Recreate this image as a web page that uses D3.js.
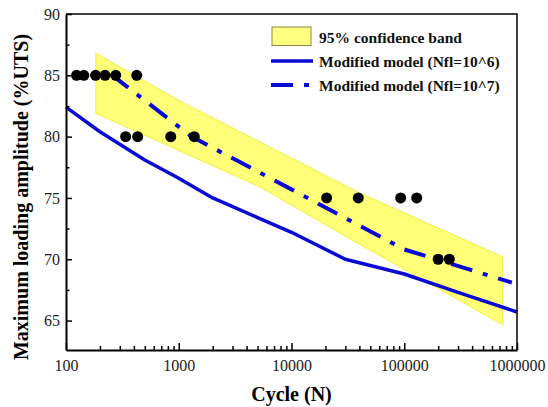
<!DOCTYPE html>
<html>
<head>
<meta charset="utf-8">
<script src="https://cdn.jsdelivr.net/npm/d3@7"></script>
<style>
  html, body { margin: 0; padding: 0; background: #fff; }
  svg { display: block; }
  text { font-family: "Liberation Serif", "Times New Roman", serif; }
</style>
</head>
<body>
<svg id="chart" width="548" height="407"></svg>
<script>
// ---- data ----
const xTickValues = [100, 1000, 10000, 100000, 1000000];
const xTickLabels = ["100", "1000", "10000", "100000", "1000000"];
const yTickValues = [65, 70, 75, 80, 85, 90];
const yMinorTicks = [67.5, 72.5, 77.5, 82.5, 87.5];

const pointCycles = [124, 144, 183, 222, 276, 424, 338, 432, 849, 1374, 20500, 39100, 93000, 129000, 200000, 251000];
const pointAmplitude = [85, 85, 85, 85, 85, 85, 80, 80, 80, 80, 75, 75, 75, 75, 70, 70];

const model6Cycles = [100, 200, 500, 1000, 2000, 5000, 10000, 30000, 100000, 300000, 1000000];
const model6Amplitude = [82.4, 80.4, 78.1, 76.6, 75.0, 73.4, 72.2, 70.0, 68.8, 67.3, 65.7];

const model7Cycles = [250, 1300, 10000, 100000, 900000];
const model7Amplitude = [85.1, 80.0, 75.7, 70.8, 68.1];

const bandUpperCycles = [184, 1026, 40500, 746000];
const bandUpper = [86.8, 82.9, 75.4, 70.2];
const bandLowerCycles = [184, 5250, 29800, 746000];
const bandLower = [81.9, 75.9, 71.9, 64.65];

const legendLabels = ["95% confidence band", "Modified model (Nfl=10^6)", "Modified model (Nfl=10^7)"];

// ---- layout ----
const svg = d3.select("#chart");
const L = 66, R = 517, T = 14, B = 350;
const x = d3.scaleLog().domain([100, 1000000]).range([L, R]);
const y = d3.scaleLinear().domain([62.6, 90]).range([B, T]);
const blue = "#0a0ad2";

// band
const bandPts = bandUpperCycles.map((c, i) => [c, bandUpper[i]])
  .concat(bandLowerCycles.map((c, i) => [c, bandLower[i]]).reverse());
svg.append("path")
  .attr("d", d3.line().x(d => x(d[0])).y(d => y(d[1])).curve(d3.curveLinearClosed)(bandPts))
  .attr("fill", "#ffff78")
  .attr("stroke", "#eeee44")
  .attr("stroke-width", 1);

// model lines
const line = d3.line().x(d => x(d[0])).y(d => y(d[1]));
svg.append("path")
  .attr("d", line(model6Cycles.map((c, i) => [c, model6Amplitude[i]])))
  .attr("fill", "none").attr("stroke", blue).attr("stroke-width", 3.5)
  .attr("stroke-linejoin", "round");
svg.append("path")
  .attr("d", line(model7Cycles.map((c, i) => [c, model7Amplitude[i]])))
  .attr("fill", "none").attr("stroke", blue).attr("stroke-width", 4)
  .attr("stroke-dasharray", "22,11,5,11");

// points
svg.append("g").selectAll("circle")
  .data(pointCycles.map((c, i) => [c, pointAmplitude[i]]))
  .join("circle")
  .attr("cx", d => x(d[0])).attr("cy", d => y(d[1])).attr("r", 5.5)
  .attr("fill", "#000");

// axes
const minorX = [];
for (let e = 2; e < 6; e++) for (let m = 2; m <= 9; m++) minorX.push(m * Math.pow(10, e));

const gx = svg.append("g").attr("transform", `translate(0,${B})`);
gx.call(d3.axisBottom(x).tickValues(xTickValues).tickFormat((d, i) => xTickLabels[i])
  .tickSizeInner(-7).tickSizeOuter(0).tickPadding(10));
const gxm = svg.append("g").attr("transform", `translate(0,${B})`);
gxm.call(d3.axisBottom(x).tickValues(minorX).tickFormat("").tickSizeInner(-4).tickSizeOuter(0));
gxm.select(".domain").remove();

const gy = svg.append("g").attr("transform", `translate(${L},0)`);
gy.call(d3.axisLeft(y).tickValues(yTickValues).tickSizeInner(-6).tickSizeOuter(0).tickPadding(6));
const gym = svg.append("g").attr("transform", `translate(${L},0)`);
gym.call(d3.axisLeft(y).tickValues(yMinorTicks).tickFormat("").tickSizeInner(-3.5).tickSizeOuter(0));
gym.select(".domain").remove();

svg.selectAll(".domain").attr("stroke-width", 2);
svg.selectAll(".tick line").attr("stroke-width", 1.5);
svg.selectAll(".tick text").attr("font-family", "Liberation Serif, serif").attr("font-size", 16).attr("fill", "#222");
gx.selectAll(".tick text").attr("dy", "0.71em");

// frame top and right
svg.append("path")
  .attr("d", `M${L},${T}H${R}V${B}`)
  .attr("fill", "none").attr("stroke", "#000").attr("stroke-width", 1.5);

// axis titles
svg.append("text")
  .attr("x", (L + R) / 2).attr("y", 401)
  .attr("text-anchor", "middle").attr("font-weight", "bold").attr("font-size", 20)
  .text("Cycle (N)");
svg.append("text")
  .attr("transform", "translate(28,197) rotate(-90)")
  .attr("text-anchor", "middle").attr("font-weight", "bold").attr("font-size", 20)
  .text("Maximum loading amplitude (%UTS)");

// legend
const lg = svg.append("g");
lg.append("rect").attr("x", 272).attr("y", 27).attr("width", 39).attr("height", 18.5)
  .attr("fill", "#ffff80").attr("stroke", "#888844").attr("stroke-width", 1);
lg.append("line").attr("x1", 271).attr("x2", 313).attr("y1", 61).attr("y2", 61)
  .attr("stroke", blue).attr("stroke-width", 3.5);
lg.append("line").attr("x1", 271).attr("x2", 313).attr("y1", 85).attr("y2", 85)
  .attr("stroke", blue).attr("stroke-width", 4).attr("stroke-dasharray", "22,11,5,11");
[43, 67, 91].forEach((yy, i) => {
  lg.append("text").attr("x", 319).attr("y", yy)
    .attr("font-weight", "bold").attr("font-size", 15.5).attr("fill", "#111")
    .text(legendLabels[i]);
});
</script>
</body>
</html>
